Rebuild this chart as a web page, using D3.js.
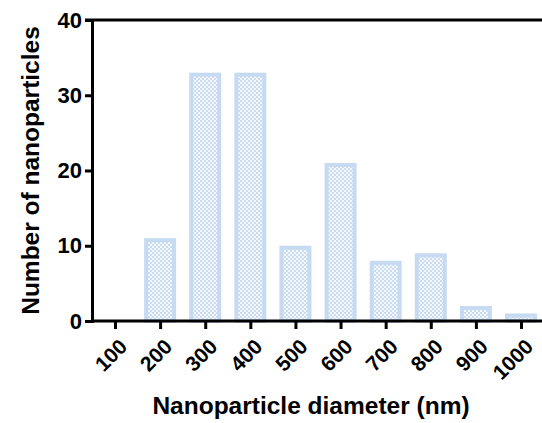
<!DOCTYPE html>
<html>
<head>
<meta charset="utf-8">
<script src="https://cdn.jsdelivr.net/npm/d3@7"></script>
<style>
  body { margin: 0; background: #fff; }
  svg { display: block; font-family: "Liberation Sans", Arial, sans-serif; }
</style>
</head>
<body>
<div id="chart"></div>
<script>
const diameters = ["100", "200", "300", "400", "500", "600", "700", "800", "900", "1000"];
const counts = [0, 11, 33, 33, 10, 21, 8, 9, 2, 1];
const yTicks = [0, 10, 20, 30, 40];

const WIDTH = 542;
const HEIGHT = 423;
const MARGIN = { top: 20, right: 0, bottom: 102, left: 92 };

const svg = d3.select("#chart").append("svg")
  .attr("width", WIDTH)
  .attr("height", HEIGHT);

// patron cuadriculado del relleno
const defs = svg.append("defs");
const pat = defs.append("pattern")
  .attr("id", "checks")
  .attr("patternUnits", "userSpaceOnUse")
  .attr("width", 4)
  .attr("height", 4);
pat.append("rect").attr("width", 4).attr("height", 4).attr("fill", "#f4f8fd");
pat.append("rect").attr("width", 2).attr("height", 2).attr("fill", "#c9dcf2");
pat.append("rect").attr("x", 2).attr("y", 2).attr("width", 2).attr("height", 2).attr("fill", "#c9dcf2");

const x = d3.scalePoint()
  .domain(diameters)
  .range([115, 521]);

const y = d3.scaleLinear()
  .domain([0, 40])
  .range([HEIGHT - MARGIN.bottom, MARGIN.top]);

const barW = 28;

svg.append("g")
  .selectAll("rect")
  .data(counts.map((c, i) => ({ d: diameters[i], c })).filter(e => e.c > 0))
  .enter()
  .append("rect")
  .attr("x", e => x(e.d) - barW / 2)
  .attr("y", e => y(e.c) + 2)
  .attr("width", barW)
  .attr("height", e => y(0) - y(e.c) - 2)
  .attr("fill", "url(#checks)")
  .attr("stroke", "#c6daf2")
  .attr("stroke-width", 4);

// marco superior
svg.append("line")
  .attr("x1", 85).attr("x2", WIDTH)
  .attr("y1", y(40)).attr("y2", y(40))
  .attr("stroke", "#000").attr("stroke-width", 3);

const yAxis = svg.append("g")
  .attr("transform", `translate(${MARGIN.left},0)`)
  .call(d3.axisLeft(y).tickValues(yTicks).tickSize(7).tickPadding(3));

const xAxis = svg.append("g")
  .attr("transform", `translate(0,${y(0)})`)
  .call(d3.axisBottom(x).tickSize(8).tickPadding(4));

[yAxis, xAxis].forEach(a => {
  a.select(".domain").attr("stroke-width", 3).attr("stroke", "#000");
  a.selectAll(".tick line").attr("stroke-width", 3).attr("stroke", "#000");
  a.selectAll("text")
    .attr("font-size", 22)
    .attr("font-weight", "bold")
    .attr("fill", "#000")
    .attr("font-family", "Liberation Sans, Arial, sans-serif");
});

// extender eje x hasta el borde
xAxis.select(".domain").attr("d", `M${MARGIN.left},0H${WIDTH}`);

xAxis.selectAll("text")
  .attr("font-size", 21)
  .attr("text-anchor", "end")
  .attr("dy", null)
  .attr("y", 0)
  .attr("transform", "translate(13,27) rotate(-45)");

svg.append("text")
  .attr("x", 311)
  .attr("y", 414)
  .attr("text-anchor", "middle")
  .attr("font-size", 24.5)
  .attr("font-weight", "bold")
  .text("Nanoparticle diameter (nm)");

svg.append("text")
  .attr("transform", `translate(39,${(y(0) + y(40)) / 2}) rotate(-90)`)
  .attr("text-anchor", "middle")
  .attr("font-size", 24.5)
  .attr("font-weight", "bold")
  .text("Number of nanoparticles");
</script>
</body>
</html>
